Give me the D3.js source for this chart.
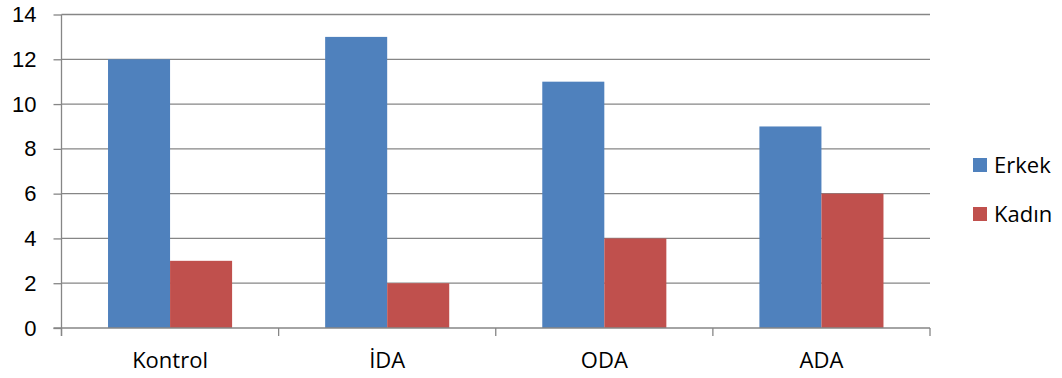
<!DOCTYPE html>
<html>
<head>
<meta charset="utf-8">
<script src="https://cdn.jsdelivr.net/npm/d3@7"></script>
<style>
  html, body { margin: 0; padding: 0; background: #fff; }
  svg { display: block; font-family: "Open Sans", "Noto Sans", sans-serif; }
</style>
</head>
<body>
<svg id="chart" width="1062" height="378"></svg>
<script>
// Group categories and the two series
const categories = ["Kontrol", "İDA", "ODA", "ADA"];
const seriesNames = ["Erkek", "Kadın"];
const erkek = [12, 13, 11, 9];
const kadin = [3, 2, 4, 6];
const yTicks = [0, 2, 4, 6, 8, 10, 12, 14];
const colors = ["#4F81BD", "#C0504D"];

const svg = d3.select("#chart");
const plot = { left: 61.5, right: 930, top: 14.5, bottom: 328 };
const fontSize = 22;

const x = d3.scaleBand().domain(categories).range([plot.left, plot.right]).paddingInner(0).paddingOuter(0);
const xs = d3.scaleBand().domain(seriesNames).range([0, x.bandwidth()]).paddingInner(0).paddingOuter(0.75);
const y = d3.scaleLinear().domain([0, 14]).range([plot.bottom, plot.top]);

const gridColor = "#868686";

// Horizontal gridlines
svg.append("g")
  .selectAll("line")
  .data(yTicks.filter(d => d > 0))
  .join("line")
  .attr("x1", plot.left).attr("x2", plot.right)
  .attr("y1", d => y(d)).attr("y2", d => y(d))
  .attr("stroke", gridColor).attr("stroke-width", 1.3);

// Bars
const rows = categories.map((c, i) => ({ cat: c, values: [erkek[i], kadin[i]] }));
svg.append("g")
  .selectAll("g")
  .data(rows)
  .join("g")
  .attr("transform", d => `translate(${x(d.cat)},0)`)
  .selectAll("rect")
  .data(d => d.values.map((v, j) => ({ name: seriesNames[j], v, j })))
  .join("rect")
  .attr("x", d => xs(d.name))
  .attr("width", xs.bandwidth())
  .attr("y", d => y(d.v))
  .attr("height", d => y(0) - y(d.v))
  .attr("fill", d => colors[d.j]);

// Y axis
const yAxis = svg.append("g")
  .attr("transform", `translate(${plot.left},0)`)
  .call(d3.axisLeft(y).tickValues(yTicks).tickSize(8).tickPadding(17).tickFormat(d3.format("d")));
yAxis.select(".domain").attr("stroke", gridColor).attr("stroke-width", 1.3)
  .attr("d", `M0,${plot.top}V${plot.bottom + 8}`);
yAxis.selectAll(".tick line").attr("stroke", gridColor).attr("stroke-width", 1.3);
yAxis.selectAll(".tick text").attr("font-size", fontSize).attr("fill", "#000");

// X axis with boundary ticks between categories
const xAxisG = svg.append("g").attr("transform", `translate(0,${plot.bottom})`);
xAxisG.append("line")
  .attr("x1", plot.left - 8).attr("x2", plot.right)
  .attr("stroke", gridColor).attr("stroke-width", 1.3);
const bounds = categories.map(c => x(c)).concat([plot.right]);
xAxisG.selectAll("line.b")
  .data(bounds)
  .join("line").attr("class", "b")
  .attr("x1", d => d).attr("x2", d => d)
  .attr("y1", 0).attr("y2", 8)
  .attr("stroke", gridColor).attr("stroke-width", 1.3);
xAxisG.selectAll("text")
  .data(categories)
  .join("text")
  .attr("x", d => x(d) + x.bandwidth() / 2)
  .attr("y", 40)
  .attr("text-anchor", "middle")
  .attr("font-size", fontSize)
  .attr("fill", "#000")
  .text(d => d);

// Legend
const legend = svg.append("g").attr("transform", "translate(973,158)");
const items = legend.selectAll("g")
  .data(seriesNames)
  .join("g")
  .attr("transform", (d, i) => `translate(0,${i * 49})`);
items.append("rect").attr("width", 14).attr("height", 14).attr("fill", (d, i) => colors[i]);
items.append("text")
  .attr("x", 21).attr("y", 7).attr("dy", "0.35em")
  .attr("font-size", fontSize).attr("fill", "#000")
  .text(d => d);
</script>
</body>
</html>
